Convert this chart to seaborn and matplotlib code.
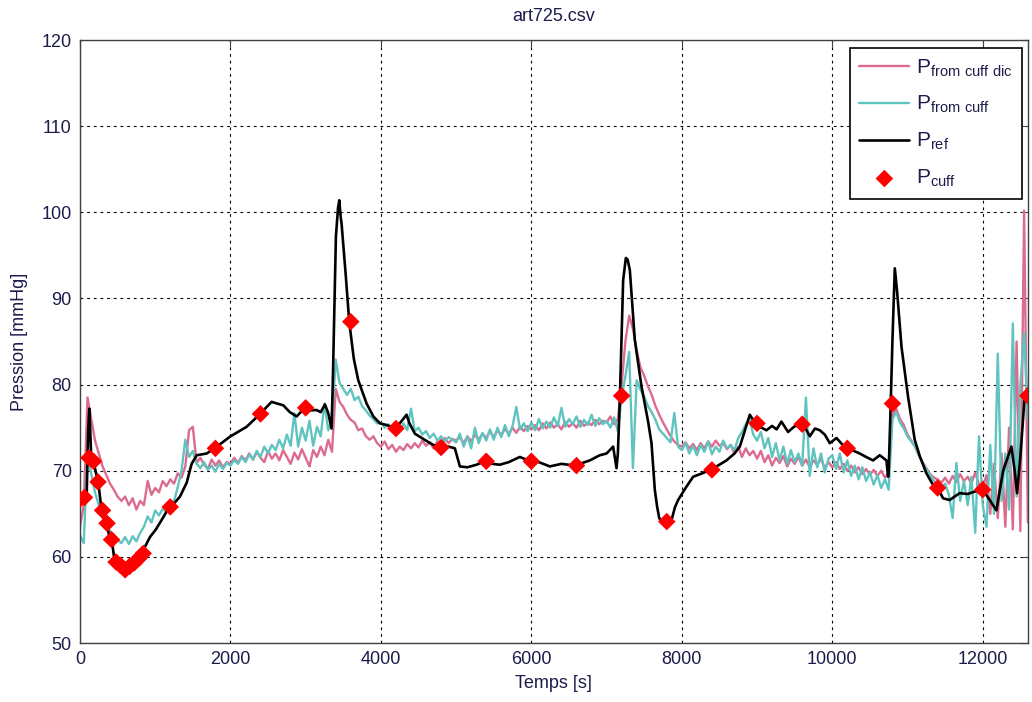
import numpy as np
import pandas as pd
import seaborn as sns
import matplotlib.pyplot as plt

# sampling grid of the two cuff-derived signals (s)
t_cuff = np.arange(0, 12601, 50)

# P from cuff dic (pink), one row per 1000 s
p_cuff_dic = [
    63.5, 66.0, 78.5, 76.0, 73.5, 72.0, 70.5, 69.5, 68.5, 67.8, 67.0, 66.5, 67.0, 66.0, 66.8, 65.5, 66.5, 66.0, 68.8, 67.2,
    68.0, 67.5, 68.8, 68.2, 69.0, 68.5, 69.7, 69.2, 70.5, 74.7, 75.1, 70.9, 71.5, 70.7, 70.2, 71.3, 70.6, 71.2, 70.4, 71.0,
    70.8, 71.5, 70.9, 71.7, 71.2, 72.0, 71.3, 72.2, 71.5, 71.0, 72.3, 71.4, 72.0, 71.2, 72.4, 71.6, 70.8, 72.1, 71.3, 72.5,
    71.5, 70.5, 72.4, 71.6, 72.8, 71.8, 73.6, 72.2, 79.5, 78.0, 77.4, 76.5, 75.9, 75.6, 74.7, 74.9, 74.0, 73.6, 74.0, 73.2,
    72.8, 73.4, 72.5, 73.0, 72.2, 72.8, 72.4, 73.1, 72.6, 73.2, 72.7, 73.5, 72.9, 73.3, 72.6, 73.4, 73.0, 73.8, 73.2, 73.7,
    73.5, 73.9, 73.2, 74.0, 73.4, 74.2, 73.6, 74.3, 73.8, 74.6, 73.9, 74.7, 74.1, 74.9, 74.3, 75.0, 74.4, 75.1, 74.6, 75.2,
    74.8, 75.3, 74.7, 75.5, 74.9, 75.6, 75.0, 75.4, 74.8, 75.7, 75.1, 75.5, 75.0, 75.8, 75.2, 75.6, 75.3, 75.9, 75.4, 75.8,
    75.6, 76.3, 75.4, 76.0, 80.0, 85.0, 88.0, 86.5, 84.0, 82.0, 81.0, 79.8, 78.8, 77.5, 76.5, 75.6, 74.8, 74.0, 73.4, 73.0,
    72.8, 73.3, 72.6, 73.1, 72.4, 73.2, 72.6, 73.4, 72.8, 73.5, 72.9, 73.2, 72.5, 73.0, 72.0, 72.8, 71.6, 72.6, 71.8, 72.3,
    71.4, 72.3, 71.0, 71.8, 70.6, 71.5, 70.9, 71.7, 70.5, 71.4, 70.8, 71.6, 70.6, 71.3, 70.4, 71.2, 70.7, 71.4, 70.3, 71.0,
    70.4, 71.0, 70.2, 70.8, 70.0, 70.6, 69.8, 70.4, 69.6, 70.2, 69.5, 70.1, 69.4, 70.0, 69.2, 69.8, 76.5, 77.2, 76.0, 75.3,
    74.2, 73.5, 72.8, 71.8, 71.0, 70.3, 69.6, 69.2, 69.0, 68.6, 69.2, 68.5, 69.4, 68.7, 69.6, 68.8, 69.3, 68.5, 69.8, 68.4,
    68.0, 69.5, 65.0, 70.8, 64.5, 72.0, 63.5, 75.0, 63.2, 85.0, 63.0, 100.2, 64.0,
]

# P from cuff (cyan)
p_from_cuff = [
    62.5, 61.6, 72.0, 69.6, 67.5, 66.0, 64.7, 63.8, 63.0, 62.3, 62.0, 61.6, 62.3, 61.5, 62.4, 61.8, 62.8, 63.5, 64.7, 64.0,
    65.4, 64.8, 65.6, 65.2, 66.0, 66.5, 68.1, 70.0, 73.6, 71.6, 72.3, 70.8, 70.3, 71.0, 70.1, 70.6, 69.9, 70.8, 70.2, 70.9,
    70.6, 71.2, 70.8, 71.6, 71.0, 71.9, 71.3, 72.3, 71.6, 72.8, 72.0, 73.0, 72.4, 73.6, 72.6, 74.2, 72.9, 76.7, 72.8, 75.0,
    73.5, 75.8, 72.9, 75.1, 74.0, 77.8, 74.7, 76.0, 82.9, 80.2, 79.5, 78.8, 79.5, 78.2, 78.6, 77.5, 77.0, 76.4, 76.0, 75.5,
    75.6, 75.0, 75.4, 74.8, 75.2, 74.6, 75.5, 74.7, 77.2, 74.6, 75.0, 74.2, 74.6, 73.8, 74.3, 73.5, 74.0, 73.4, 73.9, 73.6,
    73.3, 74.3, 72.8, 74.0, 72.6, 75.0, 73.2, 74.4, 73.5, 74.8, 73.6, 75.0, 73.9, 75.3, 74.0, 75.2, 77.4, 74.8, 75.5, 74.6,
    75.6, 74.7, 76.0, 74.9, 75.7, 75.0, 76.2, 75.2, 77.3, 75.1, 76.0, 75.4, 76.3, 75.1, 75.9, 75.3, 76.5, 75.2, 76.1, 75.4,
    75.8, 75.0, 76.2, 74.6, 78.5, 81.0, 83.8, 70.3, 80.5, 79.4, 78.6, 77.5, 76.8, 75.9, 74.8, 74.3, 73.8, 73.3, 76.7, 72.8,
    72.4, 73.2, 72.0, 72.9, 71.8, 73.0, 72.2, 73.4, 71.9, 72.8, 72.2, 73.5, 72.6, 73.0, 72.4, 73.8, 74.5, 75.4, 76.0, 74.2,
    73.5, 74.5, 72.6, 73.8, 71.6, 73.2, 71.2, 72.8, 70.8, 72.4, 71.0, 72.0, 70.6, 78.5, 69.4, 72.6, 70.4, 72.0, 69.8, 71.4,
    71.8, 70.2, 72.0, 69.8, 71.2, 69.4, 70.6, 69.0, 70.4, 68.8, 69.8, 68.4, 69.5, 68.0, 69.0, 67.8, 76.0, 76.8, 75.6, 74.9,
    74.0, 73.4, 72.8, 71.8, 70.9, 70.2, 69.5, 68.8, 68.6, 68.0, 68.5, 67.2, 64.5, 70.9, 66.5, 68.8, 66.0, 69.3, 62.8, 74.0,
    66.0, 63.5, 73.0, 65.0, 83.6, 66.5, 72.0, 65.5, 87.1, 67.0, 80.0, 86.0, 76.0,
]

# reference pressure (black)
t_ref = [0, 60, 90, 110, 124, 135, 150, 180, 243, 288, 354, 399, 430, 460, 487, 576, 664, 753, 819, 930,
         1010, 1100, 1187, 1260, 1329, 1418, 1484, 1551, 1684, 1772, 1880, 1993, 2100, 2215, 2300, 2383, 2470, 2547, 2620, 2702,
         2790, 2879, 2990, 3060, 3145, 3200, 3256, 3300, 3344, 3360, 3402, 3430, 3447, 3465, 3477, 3530, 3579, 3640, 3699, 3810,
         3900, 3987, 4080, 4186, 4260, 4341, 4380, 4452, 4580, 4695, 4800, 4900, 4983, 5050, 5150, 5271, 5382, 5480, 5581, 5700,
         5847, 5989, 6100, 6246, 6400, 6578, 6777, 6910, 7000, 7087, 7132, 7150, 7176, 7220, 7256, 7280, 7309, 7375, 7464, 7552,
         7597, 7641, 7672, 7700, 7740, 7780, 7830, 7870, 7910, 7951, 8050, 8150, 8270, 8381, 8480, 8594, 8700, 8771, 8850, 8904,
         8984, 9060, 9125, 9200, 9260, 9324, 9413, 9490, 9568, 9640, 9701, 9770, 9834, 9900, 9967, 10056, 10179, 10260, 10365, 10450,
         10542, 10631, 10720, 10742, 10750, 10777, 10800, 10831, 10860, 10920, 11007, 11096, 11163, 11251, 11330, 11400, 11473, 11560, 11694, 11800,
         11900, 12000, 12093, 12182, 12271, 12330, 12381, 12425, 12456, 12500, 12558, 12600]
p_ref = [66.6, 67.0, 67.5, 75.0, 77.2, 75.0, 71.4, 71.0, 68.6, 65.4, 63.9, 62.0, 61.5, 59.5, 59.3, 58.5, 58.9, 59.6, 60.4, 62.3,
         63.2, 64.5, 65.8, 66.3, 67.0, 68.6, 70.8, 71.8, 72.0, 72.5, 73.2, 73.95, 74.5, 75.1, 75.8, 76.5, 77.3, 78.0, 77.8, 77.6,
         76.8, 76.3, 77.3, 77.0, 77.05, 76.8, 77.7, 76.7, 74.9, 80.0, 97.2, 100.5, 101.4, 99.5, 98.7, 93.0, 87.3, 83.0, 80.5, 77.8,
         76.3, 75.5, 75.3, 74.9, 75.6, 76.5, 75.5, 74.3, 73.6, 73.0, 72.7, 72.8, 72.6, 70.5, 70.4, 70.7, 71.1, 70.8, 70.7, 71.0,
         71.6, 71.1, 71.0, 70.5, 70.8, 70.6, 71.2, 71.8, 72.0, 72.8, 70.3, 72.0, 78.2, 92.1, 94.7, 94.5, 93.3, 85.2, 79.8, 75.7,
         73.2, 67.8, 65.8, 64.5, 64.0, 64.1, 64.2, 64.5, 65.8, 66.6, 68.0, 69.3, 69.7, 70.1, 70.6, 71.2, 72.0, 72.8, 75.0, 76.5,
         75.4, 75.0, 74.7, 75.2, 74.8, 75.7, 74.5, 75.1, 75.4, 75.0, 74.0, 74.9, 74.7, 74.2, 73.2, 73.8, 72.6, 72.4, 72.0, 71.6,
         71.2, 71.8, 71.2, 69.3, 70.0, 77.8, 85.2, 93.5, 91.0, 84.4, 78.6, 73.6, 71.7, 69.7, 68.5, 68.0, 66.8, 66.6, 67.4, 67.3,
         67.6, 67.8, 66.6, 65.4, 70.0, 71.5, 72.8, 70.0, 67.4, 71.6, 78.7, 79.5]

# cuff measurements (red diamonds)
t_meas = [0, 60, 120, 180, 240, 300, 360, 420, 480, 540, 600, 660, 720, 780, 840,
          1200, 1800, 2400, 3000, 3600, 4200, 4800, 5400, 6000, 6600, 7200, 7800, 8400,
          9000, 9600, 10200, 10800, 11400, 12000, 12600]
p_meas = [66.7, 66.9, 71.5, 71.1, 68.7, 65.4, 63.9, 62.0, 59.4, 59.0, 58.5, 58.9, 59.3, 59.8, 60.4,
          65.8, 72.6, 76.6, 77.3, 87.3, 74.9, 72.7, 71.1, 71.1, 70.6, 78.7, 64.1, 70.1,
          75.5, 75.4, 72.6, 77.8, 68.0, 67.8, 78.7]

df_cuff = pd.DataFrame({'t': t_cuff, 'dic': p_cuff_dic, 'cuff': p_from_cuff})
df_ref = pd.DataFrame({'t': t_ref, 'p': p_ref})
df_meas = pd.DataFrame({'t': t_meas, 'p': p_meas})

sns.set_style('white')
plt.rcParams['font.family'] = ['Liberation Sans', 'DejaVu Sans']
plt.rcParams['mathtext.fontset'] = 'custom'
plt.rcParams['mathtext.rm'] = 'Liberation Sans'

txt_col = '#1c1c4a'

fig = plt.figure(figsize=(10.32, 7.02), dpi=100)
ax = fig.add_axes([0.0775, 0.084, 0.9185, 0.859])

sns.lineplot(data=df_cuff, x='t', y='dic', ax=ax, color='#dc6b8d', lw=1.7,
             estimator=None, sort=False, label=r'$\mathregular{P_{from\ cuff\ dic}}$')
sns.lineplot(data=df_cuff, x='t', y='cuff', ax=ax, color='#5fc4c0', lw=1.7,
             estimator=None, sort=False, label=r'$\mathregular{P_{from\ cuff}}$')
sns.lineplot(data=df_ref, x='t', y='p', ax=ax, color='black', lw=1.9,
             estimator=None, sort=False, label=r'$\mathregular{P_{ref}}$')
sns.scatterplot(data=df_meas, x='t', y='p', ax=ax, color='#ff0000', marker='D',
                s=80, edgecolor='none', zorder=5, label=r'$\mathregular{P_{cuff}}$')

ax.set_xlim(0, 12600)
ax.set_ylim(50, 120)
ax.set_xticks(np.arange(0, 12001, 2000))
ax.set_yticks(np.arange(50, 121, 10))
ax.grid(True, color='black', linestyle=(0, (2.5, 3.5)), lw=0.8)
ax.tick_params(direction='in', top=True, right=True, length=5, labelsize=13, pad=6,
               colors='#404040', labelcolor=txt_col)
for sp in ax.spines.values():
    sp.set_color('#404040')
    sp.set_linewidth(1.0)

ax.set_title('art725.csv', fontsize=13, color=txt_col, pad=14)
ax.set_xlabel('Temps [s]', fontsize=13, color=txt_col, labelpad=5)
ax.set_ylabel('Pression [mmHg]', fontsize=13, color=txt_col, labelpad=10)

leg = ax.legend(loc='upper right', fontsize=15, frameon=True, fancybox=False,
                edgecolor='black', framealpha=1, handlelength=2.4, handletextpad=0.3,
                labelspacing=0.75, borderpad=0.45, borderaxespad=0,
                bbox_to_anchor=(0.9935, 0.987))
leg.get_frame().set_linewidth(1.2)
for t in leg.get_texts():
    t.set_color(txt_col)

fig.savefig('out.png', dpi=100)
